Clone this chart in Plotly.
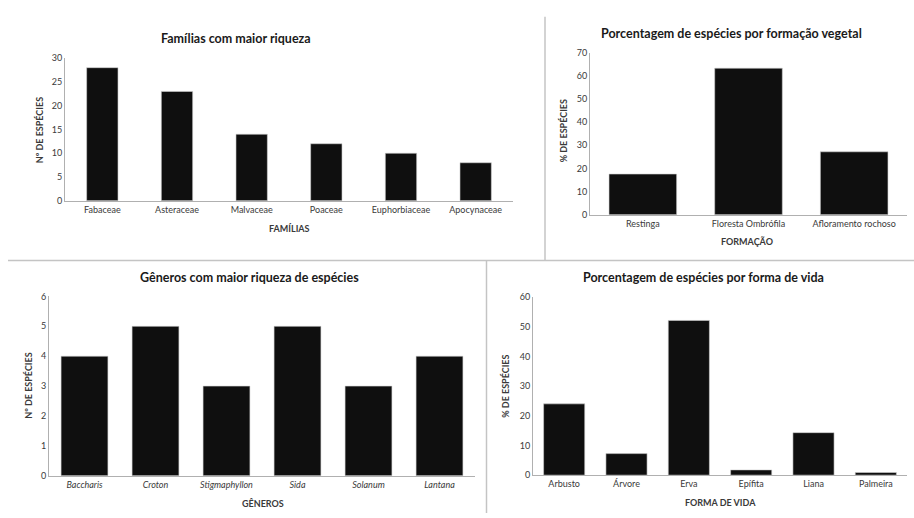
import plotly.graph_objects as go

W, H = 914, 518

# ---- data ----
familias = ["Fabaceae", "Asteraceae", "Malvaceae", "Poaceae", "Euphorbiaceae", "Apocynaceae"]
familias_n = [28, 23, 14, 12, 10, 8]

formacoes = ["Restinga", "Floresta Ombrófila", "Afloramento rochoso"]
formacoes_pct = [17.6, 63.3, 27.2]

generos = ["Baccharis", "Croton", "Stigmaphyllon", "Sida", "Solanum", "Lantana"]
generos_n = [4, 5, 3, 5, 3, 4]

formas = ["Arbusto", "Árvore", "Erva", "Epífita", "Liana", "Palmeira"]
formas_pct = [24.0, 7.25, 52.1, 1.76, 14.3, 0.88]

# ---- helpers ----
def px(x):
    return x / W

def py(y):
    return 1 - y / H

FONT = "Lato"
TICKC = "#3a3a3a"
BAR = "#0f0f0f"
AX = "#b0b0b0"

fig = go.Figure()

edge = dict(color="#d0d0d0", width=0.6)
fig.add_trace(go.Bar(x=familias, y=familias_n, width=0.42, marker=dict(color=BAR, line=edge),
                     xaxis="x", yaxis="y", showlegend=False))
fig.add_trace(go.Bar(x=formacoes, y=formacoes_pct, width=0.64, marker=dict(color=BAR, line=edge),
                     xaxis="x2", yaxis="y2", showlegend=False))
gen_labels = [f"<i>{g}</i>" for g in generos]
fig.add_trace(go.Bar(x=gen_labels, y=generos_n, width=0.66, marker=dict(color=BAR, line=edge),
                     xaxis="x3", yaxis="y3", showlegend=False))
fig.add_trace(go.Bar(x=formas, y=formas_pct, width=0.66, marker=dict(color=BAR, line=edge),
                     xaxis="x4", yaxis="y4", showlegend=False))

tickfont = dict(family=FONT, size=9, color=TICKC)

def xax(domain, anchor):
    return dict(domain=domain, anchor=anchor, showgrid=False, zeroline=False, showline=True,
                linecolor=AX, linewidth=1, ticks="", tickfont=tickfont, fixedrange=True)

def yax(domain, anchor, rng, dtick):
    return dict(domain=domain, anchor=anchor, range=rng, dtick=dtick, showgrid=False, zeroline=False,
                showline=True, linecolor=AX, linewidth=1, ticks="", tickfont=tickfont, fixedrange=True)

fig.update_layout(
    width=W, height=H,
    margin=dict(l=0, r=0, t=0, b=0),
    paper_bgcolor="white", plot_bgcolor="white",
    font=dict(family=FONT),
    hovermode=False,
    xaxis=xax([px(65), px(513)], "y"),
    yaxis=yax([py(199), py(53.3)], "x", [0, 30], 5),
    xaxis2=xax([px(590), px(907)], "y2"),
    yaxis2=yax([py(213.3), py(47.7)], "x2", [0, 70], 10),
    xaxis3=xax([px(49), px(475)], "y3"),
    yaxis3=yax([py(480), py(296.7)], "x3", [0, 6], 1),
    xaxis4=xax([px(533), px(907)], "y4"),
    yaxis4=yax([py(479.3), py(297.3)], "x4", [0, 60], 10),
)

ann = []
def text(x, y, s, size, bold=True, angle=0):
    ann.append(dict(x=px(x), y=py(y), xref="paper", yref="paper", text=f"<b>{s}</b>" if bold else s,
                    showarrow=False, textangle=angle, xanchor="center", yanchor="middle",
                    font=dict(family=FONT, size=size, color="#1a1a1a" if size > 10 else TICKC)))

# titles
text(236, 33, "Famílias com maior riqueza", 12.5)
text(731, 28, "Porcentagem de espécies por formação vegetal", 12.5)
text(249, 277, "Gêneros com maior riqueza de espécies", 12.5)
text(703, 277, "Porcentagem de espécies por forma de vida", 12.5)
# x titles
text(289, 227, "FAMÍLIAS", 9)
text(747, 241, "FORMAÇÃO", 9)
text(263, 508, "GÊNEROS", 9)
text(720, 507, "FORMA DE VIDA", 9)
# y titles
text(39, 127, "Nº DE ESPÉCIES", 9, angle=-90)
text(563, 128, "% DE ESPÉCIES", 9, angle=-90)
text(29, 388, "Nº DE ESPÉCIES", 9, angle=-90)
text(506, 388, "% DE ESPÉCIES", 9, angle=-90)

fig.update_layout(annotations=ann)

# panel separators
SEP = dict(color="#c4c4c4", width=1.5)
fig.update_layout(shapes=[
    dict(type="line", xref="paper", yref="paper", x0=px(8), x1=px(914), y0=py(260), y1=py(260), line=SEP),
    dict(type="line", xref="paper", yref="paper", x0=px(545), x1=px(545), y0=py(11), y1=py(260), line=SEP),
    dict(type="line", xref="paper", yref="paper", x0=px(486.5), x1=px(486.5), y0=py(260), y1=py(518), line=SEP),
])

fig.write_html("out.html", config={"displayModeBar": False, "staticPlot": True},
               post_script="document.body.style.margin='0';document.body.style.overflow='hidden';")
